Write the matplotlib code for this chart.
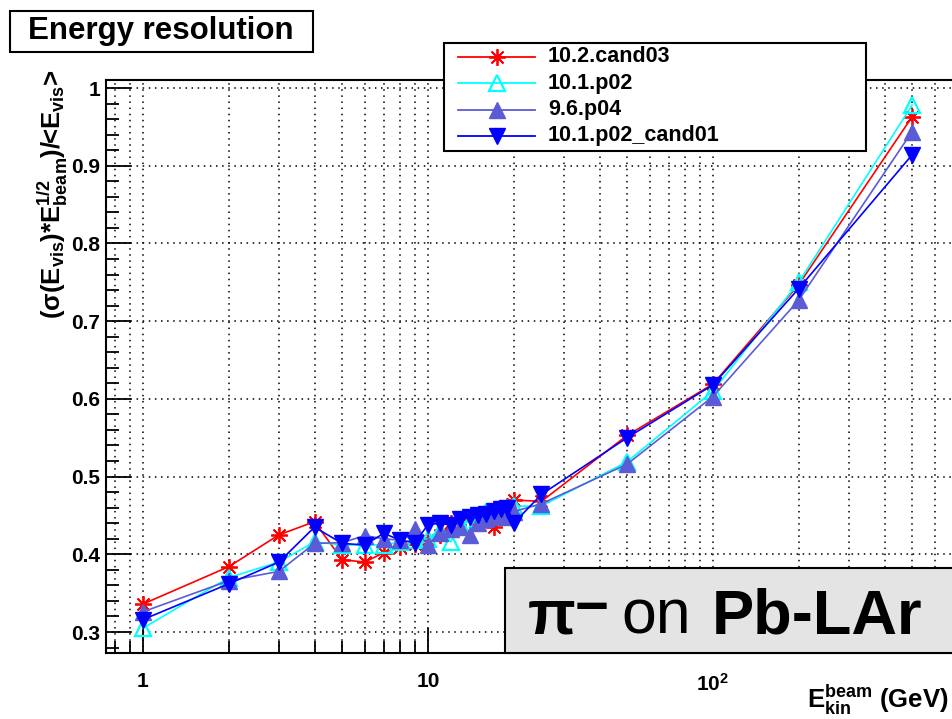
import numpy as np
import matplotlib
matplotlib.use("Agg")
import matplotlib.pyplot as plt
from matplotlib.lines import Line2D
from matplotlib.patches import Rectangle
from matplotlib.ticker import FixedLocator, FixedFormatter, LogLocator, NullFormatter, MultipleLocator

plt.rcParams["font.family"] = ["Liberation Sans", "DejaVu Sans"]
plt.rcParams["font.weight"] = "bold"
plt.rcParams["mathtext.fontset"] = "custom"
plt.rcParams["mathtext.rm"] = "Liberation Sans:bold"
plt.rcParams["mathtext.it"] = "Liberation Sans:bold"
plt.rcParams["mathtext.bf"] = "Liberation Sans:bold"
plt.rcParams["mathtext.sf"] = "Liberation Sans:bold"

# ---- data -------------------------------------------------------------
energy = [1, 2, 3, 4, 5, 6, 7, 8, 9, 10, 11, 12, 13, 14, 15, 16, 17, 18, 19, 20,
          25, 50, 100, 200, 500]

labels = ["10.2.cand03", "10.1.p02", "9.6.p04", "10.1.p02_cand01"]

res_10_2_cand03 = [0.336, 0.384, 0.425, 0.442, 0.393, 0.390, 0.402, 0.410, 0.413, 0.418,
                   0.425, 0.440, 0.445, 0.448, 0.445, 0.450, 0.435, 0.455, 0.462, 0.470,
                   0.468, 0.553, 0.619, 0.747, 0.963]
res_10_1_p02 = [0.305, 0.370, 0.390, 0.416, 0.412, 0.412, 0.412, 0.416, 0.418, 0.420,
                0.430, 0.416, 0.440, 0.442, 0.445, 0.455, 0.450, 0.455, 0.460, 0.462,
                0.462, 0.519, 0.610, 0.750, 0.978]
res_9_6_p04 = [0.326, 0.366, 0.378, 0.414, 0.415, 0.424, 0.420, 0.418, 0.433, 0.412,
               0.428, 0.432, 0.435, 0.425, 0.440, 0.445, 0.448, 0.450, 0.448, 0.455,
               0.465, 0.516, 0.603, 0.727, 0.944]
res_10_1_p02_cand01 = [0.316, 0.362, 0.390, 0.435, 0.414, 0.412, 0.427, 0.418, 0.415, 0.438,
                       0.440, 0.438, 0.446, 0.448, 0.450, 0.452, 0.456, 0.458, 0.460, 0.440,
                       0.477, 0.550, 0.618, 0.742, 0.914]

x_tick_values = [1, 10, 100]
x_tick_labels = ["1", "10", r"$10^{2}$"]
y_tick_values = [0.3, 0.4, 0.5, 0.6, 0.7, 0.8, 0.9, 1.0]
y_tick_labels = ["0.3", "0.4", "0.5", "0.6", "0.7", "0.8", "0.9", "1"]

# ---- styles -----------------------------------------------------------
styles = [
    dict(color="#ff0000", marker=(8, 2, 0), ms=12, mew=1.3, mfc="#ff0000", mec="#ff0000"),
    dict(color="#00ffff", marker="^", ms=11, mew=1.6, mfc="none", mec="#00ffff"),
    dict(color="#5b5bd6", marker="^", ms=11, mew=1.0, mfc="#5b5bd6", mec="#5b5bd6"),
    dict(color="#0000ff", marker="v", ms=11, mew=1.0, mfc="#0000ff", mec="#0000ff"),
]
series = [res_10_2_cand03, res_10_1_p02, res_9_6_p04, res_10_1_p02_cand01]

# ---- figure / axes geometry (pixels) -----------------------------------
W, H = 952, 719
fig = plt.figure(figsize=(W / 100, H / 100), dpi=100)
fig.patch.set_facecolor("white")


def fx(px):
    return px / W


def fy(py):
    return 1 - py / H


x_min, x_max = 0.742, 800.0
y_min, y_max = 0.273, 1.0103
ax_left, ax_top, ax_bottom = 106, 80, 653
ax_right = ax_left + 285 * np.log10(x_max / x_min)

ax = fig.add_axes([fx(ax_left), fy(ax_bottom), (ax_right - ax_left) / W, (ax_bottom - ax_top) / H])
ax.set_xscale("log")
ax.set_xlim(x_min, x_max)
ax.set_ylim(y_min, y_max)

for vals, st, lab in zip(series, styles, labels):
    ax.plot(energy, vals, color=st["color"], lw=1.2, marker=st["marker"], ms=st["ms"],
            mew=st["mew"], mfc=st["mfc"], mec=st["mec"], label=lab, zorder=3)

# ticks
ax.xaxis.set_major_locator(FixedLocator(x_tick_values))
ax.xaxis.set_major_formatter(FixedFormatter(x_tick_labels))
ax.xaxis.set_minor_locator(LogLocator(base=10, subs=np.arange(2, 10), numticks=20))
ax.xaxis.set_minor_formatter(NullFormatter())
ax.yaxis.set_major_locator(FixedLocator(y_tick_values))
ax.yaxis.set_major_formatter(FixedFormatter(y_tick_labels))
ax.yaxis.set_minor_locator(MultipleLocator(0.02))

ax.tick_params(axis="both", which="major", direction="in", length=18, width=1.3,
               labelsize=15, colors="black")
ax.tick_params(axis="both", which="minor", direction="in", length=9, width=1.3)
ax.tick_params(axis="x", which="major", pad=14)
ax.tick_params(axis="y", which="major", pad=4)
for lbl in ax.get_xticklabels() + ax.get_yticklabels():
    lbl.set_fontweight("bold")

grid_style = dict(color="black", linestyle=(0, (1, 3)), linewidth=1.1)
ax.grid(True, which="both", axis="x", **grid_style)
ax.grid(True, which="major", axis="y", **grid_style)
ax.set_axisbelow(True)

for sp in ax.spines.values():
    sp.set_linewidth(1.5)
    sp.set_color("black")

# axis titles
fig.text(fx(949), fy(708), r"E$_{kin}^{beam}$ (GeV)", ha="right", va="baseline",
         fontsize=18.5, fontweight="bold")
fig.text(fx(53), fy(70), r"($\sigma$(E$_{vis}$)*E$_{beam}^{1/2}$)/<E$_{vis}$>", rotation=90,
         ha="center", va="top", fontsize=18.5, fontweight="bold")

# title box
fig.add_artist(Rectangle((fx(10), fy(52)), (313 - 10) / W, (52 - 11) / H,
                         transform=fig.transFigure, facecolor="white", edgecolor="black",
                         linewidth=1.5, zorder=5))
fig.text(fx(161), fy(31), "Energy resolution", ha="center", va="center",
         fontsize=22.5, fontweight="bold", zorder=6)

# legend box
leg_l, leg_t, leg_r, leg_b = 444, 43, 866, 151
fig.add_artist(Rectangle((fx(leg_l), fy(leg_b)), (leg_r - leg_l) / W, (leg_b - leg_t) / H,
                         transform=fig.transFigure, facecolor="white", edgecolor="black",
                         linewidth=1.5, zorder=5))
row_y = [57, 83, 110, 136]
for ry, st, lab in zip(row_y, styles, labels):
    fig.add_artist(Line2D([fx(458), fx(535)], [fy(ry), fy(ry)], transform=fig.transFigure,
                          color=st["color"], lw=1.3, zorder=6))
    fig.add_artist(Line2D([fx(497)], [fy(ry)], transform=fig.transFigure, color=st["color"],
                          marker=st["marker"], ms=st["ms"], mew=st["mew"], mfc=st["mfc"],
                          mec=st["mec"], lw=0, zorder=7))
    fig.text(fx(548), fy(ry), lab, ha="left", va="center", fontsize=15.5,
             fontweight="bold", zorder=7)

# particle / target box
fig.add_artist(Rectangle((fx(505), fy(653)), (960 - 505) / W, (653 - 568) / H,
                         transform=fig.transFigure, facecolor="#e4e4e4", edgecolor="black",
                         linewidth=1.5, zorder=5))
fig.text(fx(528), fy(633), "\u03c0", ha="left", va="baseline", fontsize=45,
         fontweight="bold", zorder=6)
fig.text(fx(575), fy(625), "\u2212", ha="left", va="baseline", fontsize=42,
         fontweight="bold", zorder=6)
fig.text(fx(621), fy(633), "on", ha="left", va="baseline", fontsize=45,
         fontweight="normal", zorder=6)
fig.text(fx(712), fy(633), "Pb-LAr", ha="left", va="baseline", fontsize=45.5,
         fontweight="bold", zorder=6)

fig.savefig("out.png", dpi=100)
